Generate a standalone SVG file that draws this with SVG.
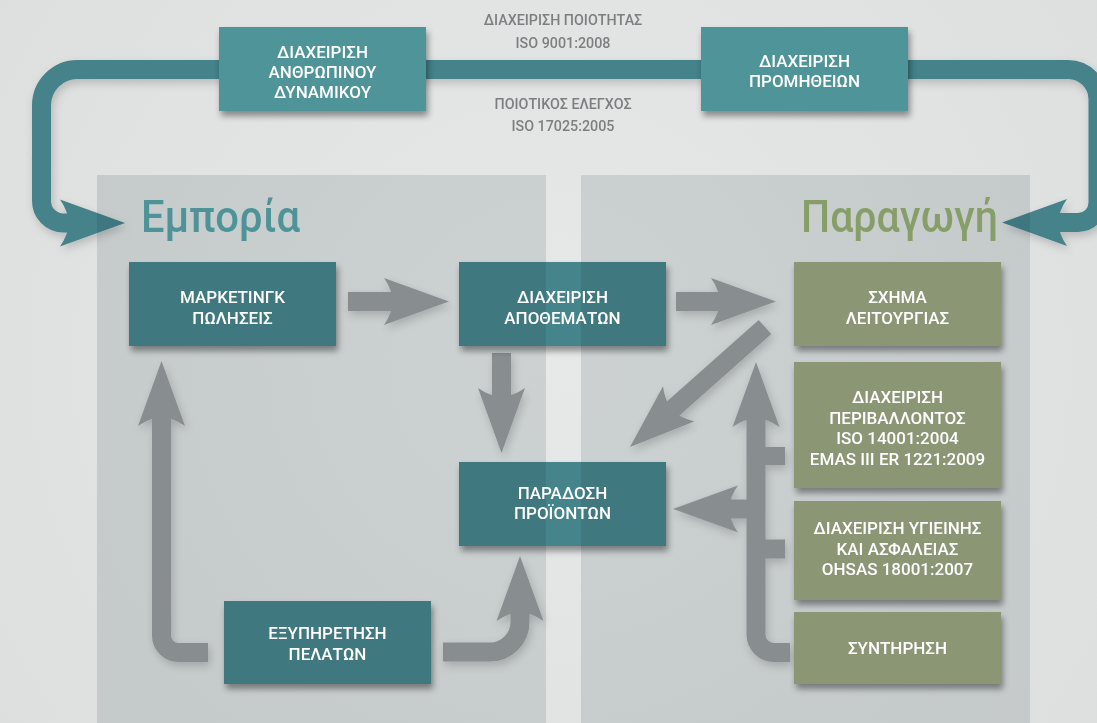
<svg xmlns="http://www.w3.org/2000/svg" width="1097" height="723" viewBox="0 0 1097 723">
<defs>
<style>
.bt{font-family:Roboto,"Liberation Sans",sans-serif;font-weight:500;font-size:17px;fill:#ffffff;text-anchor:middle}
.lt{font-family:Roboto,"Liberation Sans",sans-serif;font-weight:500;font-size:14.3px;fill:#7c7f80;text-anchor:middle}
.big{font-family:Roboto,"Noto Sans","Liberation Sans",sans-serif;font-weight:500;font-size:44px}
.tl{fill:#4f9499}
.tm{fill:#3f787f}
.tg{fill:#45848b}
.gr{fill:#8b9675}
.ga{fill:#999c9e}
.gs{stroke:#999c9e;stroke-width:19;fill:none}
.lp{stroke:#45828a;stroke-width:19;fill:none}
.lh{fill:#45828a}
.pan{fill:#14262e;fill-opacity:0.12}
</style>
<radialGradient id="bg" cx="550" cy="360" r="700" gradientUnits="userSpaceOnUse">
<stop offset="0" stop-color="#e7e9e8"/>
<stop offset="1" stop-color="#dcdfde"/>
</radialGradient>
<filter id="sh" x="-10%" y="-15%" width="125%" height="140%">
<feDropShadow dx="2" dy="5" stdDeviation="3" flood-color="#000" flood-opacity="0.4"/>
</filter>
<filter id="ash" x="-10%" y="-10%" width="125%" height="125%">
<feDropShadow dx="2" dy="4" stdDeviation="4" flood-color="#000" flood-opacity="0.18"/>
</filter>
<path id="hd" d="M0,0 L-65,-23.5 Q-57,-12 -56,0 Q-57,12 -65,23.5 Z"/>
</defs>

<rect x="0" y="0" width="1097" height="723" fill="url(#bg)"/>

<g id="connectors">
<g id="loop" filter="url(#ash)">
<path class="lp" d="M85,223 H63.5 A22,22 0 0 1 41.5,201 V105.5 A36,36 0 0 1 77.5,69.5 H1068 A30,30 0 0 1 1098,99.5 V202.5 A20,20 0 0 1 1078,222.5 H1045"/>
<use href="#hd" class="lh" transform="translate(125,223)"/>
<use href="#hd" class="lh" transform="translate(1002,222.5) rotate(180)"/>
</g>
<g id="flows" filter="url(#ash)">
<rect class="ga" x="348" y="292" width="55" height="19"/>
<use href="#hd" class="ga" transform="translate(449,301.5)"/>
<rect class="ga" x="676" y="292" width="50" height="19"/>
<use href="#hd" class="ga" transform="translate(776,301.5)"/>
<rect class="ga" x="492" y="353" width="19" height="45"/>
<use href="#hd" class="ga" transform="translate(501.5,453) rotate(90)"/>
<line x1="765" y1="327" x2="667" y2="414" stroke="#999c9e" stroke-width="19"/>
<use href="#hd" class="ga" transform="translate(630,447) rotate(138.4)"/>
<path class="gs" d="M208,652.5 H178.5 A17,17 0 0 1 161.5,635.5 V405"/>
<use href="#hd" class="ga" transform="translate(161.5,361) rotate(-90)"/>
<path class="gs" d="M443,652 H490 A30,30 0 0 0 520,622 V605"/>
<use href="#hd" class="ga" transform="translate(520,556) rotate(-90)"/>
<path class="gs" d="M790,652.5 H774 A18,18 0 0 1 756,634.5 V405"/>
<use href="#hd" class="ga" transform="translate(756,362) rotate(-90)"/>
<rect class="ga" x="756" y="447" width="29" height="18"/>
<rect class="ga" x="756" y="539.5" width="29" height="19"/>
<rect class="ga" x="715" y="499.5" width="41" height="19"/>
<use href="#hd" class="ga" transform="translate(673,509) rotate(180)"/>
</g>
<g id="loop-labels">
<text class="lt" x="563" y="25">ΔΙΑΧΕΙΡΙΣΗ ΠΟΙΟΤΗΤΑΣ</text>
<text class="lt" x="563" y="48">ISO 9001:2008</text>
<text class="lt" x="563" y="108.5">ΠΟΙΟΤΙΚΟΣ ΕΛΕΓΧΟΣ</text>
<text class="lt" x="563" y="131">ISO 17025:2005</text>
</g>
</g>

<g id="panels">
<rect class="pan" x="97" y="175" width="449" height="548"/>
<rect class="pan" x="581" y="175" width="449" height="548"/>
</g>

<g id="hr">
<rect class="tl" x="219" y="27" width="207" height="84" filter="url(#sh)"/>
<text class="bt" x="322.5" y="58">ΔΙΑΧΕΙΡΙΣΗ</text>
<text class="bt" x="322.5" y="78">ΑΝΘΡΩΠΙΝΟΥ</text>
<text class="bt" x="322.5" y="98">ΔΥΝΑΜΙΚΟΥ</text>
</g>
<g id="supply">
<rect class="tl" x="701" y="27" width="207" height="84" filter="url(#sh)"/>
<text class="bt" x="804.5" y="67">ΔΙΑΧΕΙΡΙΣΗ</text>
<text class="bt" x="804.5" y="86.5">ΠΡΟΜΗΘΕΙΩΝ</text>
</g>
<g id="marketing">
<rect class="tm" x="129" y="262" width="207" height="84" filter="url(#sh)"/>
<text class="bt" x="232.5" y="303">ΜΑΡΚΕΤΙΝΓΚ</text>
<text class="bt" x="232.5" y="324">ΠΩΛΗΣΕΙΣ</text>
</g>
<g id="stock">
<rect class="tm" x="459" y="262" width="207" height="84" filter="url(#sh)"/>
<rect class="tg" x="546" y="262" width="35" height="84"/>
<text class="bt" x="562.5" y="303">ΔΙΑΧΕΙΡΙΣΗ</text>
<text class="bt" x="562.5" y="324">ΑΠΟΘΕΜΑΤΩΝ</text>
</g>
<g id="delivery">
<rect class="tm" x="459" y="462" width="207" height="84" filter="url(#sh)"/>
<rect class="tg" x="546" y="462" width="35" height="84"/>
<text class="bt" x="562.5" y="499">ΠΑΡΑΔΟΣΗ</text>
<text class="bt" x="562.5" y="519">ΠΡΟΪΟΝΤΩΝ</text>
</g>
<g id="service">
<rect class="tm" x="224" y="601" width="207" height="83" filter="url(#sh)"/>
<text class="bt" x="327.5" y="639">ΕΞΥΠΗΡΕΤΗΣΗ</text>
<text class="bt" x="327.5" y="660">ΠΕΛΑΤΩΝ</text>
</g>
<g id="scheme">
<rect class="gr" x="794" y="262" width="207" height="84" filter="url(#sh)"/>
<text class="bt" x="897.5" y="303">ΣΧΗΜΑ</text>
<text class="bt" x="897.5" y="324">ΛΕΙΤΟΥΡΓΙΑΣ</text>
</g>
<g id="environment">
<rect class="gr" x="794" y="362" width="207" height="126" filter="url(#sh)"/>
<text class="bt" x="897.5" y="403">ΔΙΑΧΕΙΡΙΣΗ</text>
<text class="bt" x="897.5" y="423.5">ΠΕΡΙΒΑΛΛΟΝΤΟΣ</text>
<text class="bt" x="897.5" y="444">ISO 14001:2004</text>
<text class="bt" x="897.5" y="464.5">EMAS III ER 1221:2009</text>
</g>
<g id="safety">
<rect class="gr" x="794" y="501" width="207" height="99" filter="url(#sh)"/>
<text class="bt" x="897.5" y="534">ΔΙΑΧΕΙΡΙΣΗ ΥΓΙΕΙΝΗΣ</text>
<text class="bt" x="897.5" y="554.5">ΚΑΙ ΑΣΦΑΛΕΙΑΣ</text>
<text class="bt" x="897.5" y="575">OHSAS 18001:2007</text>
</g>
<g id="maintenance">
<rect class="gr" x="794" y="612" width="207" height="72" filter="url(#sh)"/>
<text class="bt" x="897.5" y="654">ΣΥΝΤΗΡΗΣΗ</text>
</g>

<g id="titles">
<text class="big" x="141" y="232" fill="#4e9398" textLength="159" lengthAdjust="spacingAndGlyphs">Εμπορία</text>
<text class="big" x="801" y="232" fill="#889e68" textLength="197" lengthAdjust="spacingAndGlyphs">Παραγωγή</text>
</g>
</svg>
